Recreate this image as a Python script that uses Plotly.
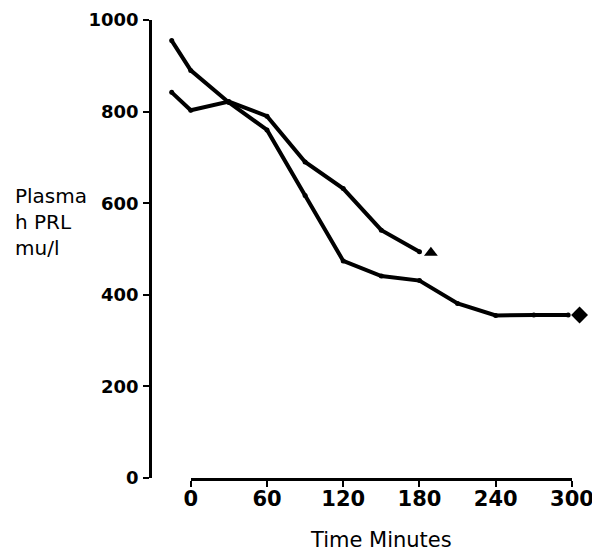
import plotly.graph_objects as go

# ---- data ----
time_a = [-15, 0, 30, 60, 90, 120, 150, 180]
prl_a = [842, 803, 822, 790, 690, 632, 541, 494]
end_a_time = [189]
end_a_val = [492]

time_b = [-15, 0, 30, 60, 90, 120, 150, 180, 210, 240, 270, 297]
prl_b = [955, 890, 820, 760, 617, 474, 441, 431, 381, 355, 356, 356]
end_b_time = [306]
end_b_val = [356]

y_ticks = [0, 200, 400, 600, 800, 1000]
x_ticks = [0, 60, 120, 180, 240, 300]

x_full = [-30.5, 315]
x_axis_span = [0, 300]

FONT = "DejaVu Sans"

fig = go.Figure()
line_style = dict(color="black", width=4)
fig.add_trace(go.Scatter(x=time_a, y=prl_a, mode="lines+markers", line=line_style,
                         marker=dict(color="black", size=5), showlegend=False, cliponaxis=False))
fig.add_trace(go.Scatter(x=end_a_time, y=end_a_val, mode="markers", cliponaxis=False,
                         marker=dict(symbol="triangle-up", color="black", size=12), showlegend=False))
fig.add_trace(go.Scatter(x=time_b, y=prl_b, mode="lines+markers", line=line_style,
                         marker=dict(color="black", size=5), showlegend=False, cliponaxis=False))
fig.add_trace(go.Scatter(x=end_b_time, y=end_b_val, mode="markers", cliponaxis=False,
                         marker=dict(symbol="diamond", color="black", size=13), showlegend=False))
# invisible trace to carry the displayed time axis
fig.add_trace(go.Scatter(x=x_axis_span, y=[None, None], xaxis="x2", yaxis="y",
                         mode="lines", showlegend=False, hoverinfo="skip"))

span = x_full[1] - x_full[0]
d0 = (x_axis_span[0] - x_full[0]) / span
d1 = (x_axis_span[1] - x_full[0]) / span

# page body has an 8px margin, so the figure is 8px smaller and margins shifted
fig.update_layout(
    width=592, height=549,
    margin=dict(l=144, r=9, t=12, b=79),
    plot_bgcolor="rgba(0,0,0,0)", paper_bgcolor="white",
    font=dict(family=FONT, color="black"),
    xaxis=dict(range=x_full, visible=False, showgrid=False, zeroline=False, automargin=False),
    xaxis2=dict(domain=[d0, d1], anchor="y", range=x_axis_span, tickvals=x_ticks,
                showline=True, linecolor="black", linewidth=2.5,
                ticks="outside", ticklen=6, tickwidth=2, tickcolor="black",
                showgrid=False, zeroline=False, automargin=False, ticklabelstandoff=-6,
                tickfont=dict(family=FONT, size=21, weight="bold", color="black"),
                title=dict(text="Time Minutes", font=dict(family=FONT, size=21, color="black"),
                           standoff=23)),
    yaxis=dict(range=[0, 1000], tickvals=y_ticks, showline=True, linecolor="black", linewidth=2.5,
               ticks="outside", ticklen=6, tickwidth=2, tickcolor="black",
               showgrid=False, zeroline=False, automargin=False, ticklabelstandoff=1,
               tickfont=dict(family=FONT, size=18, weight="bold", color="black")),
    annotations=[dict(text="Plasma<br>h PRL<br>mu/l", xref="paper", yref="paper",
                      x=(13 - 152) / 439, y=(478 - 222) / 458, xanchor="left", yanchor="middle",
                      align="left", showarrow=False,
                      font=dict(family=FONT, size=20, color="black"))],
)

fig.write_html("out.html")
